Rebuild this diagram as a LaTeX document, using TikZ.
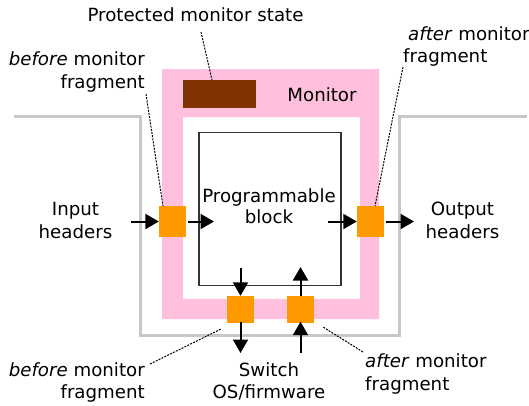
\documentclass[tikz,border=0pt]{standalone}
\usepackage{fontspec}
\setmainfont{DejaVu Sans}
\usetikzlibrary{arrows.meta}
\definecolor{pinkc}{HTML}{FFC0DD}
\definecolor{brownc}{HTML}{803300}
\definecolor{orangec}{HTML}{FF9900}
\definecolor{grayc}{HTML}{C8C8C8}
\tikzset{
  lbl/.style={inner sep=0pt, anchor=base, font=\fontsize{18.2}{22.5}\selectfont},
  frag/.style={fill=orangec, draw=none, inner sep=0pt},
  flow/.style={line width=2pt, -{Triangle[length=13.5pt,width=15pt]}},
  note/.style={line width=1pt, dash pattern=on 2pt off 1.2pt},
}
\begin{document}
\begin{tikzpicture}[x=1pt,y=-1pt]
\useasboundingbox (0,0) rectangle (529,405);
% gray outline
\draw[grayc, line width=3pt] (14,116) -- (140,116) -- (140,335) -- (399,335) -- (399,116) -- (527,116);
% pink monitor frame
\fill[pinkc, even odd rule] (162,69) rectangle (379,319) (183,117) rectangle (360,299);
\node[fill=brownc, minimum width=73pt, minimum height=28pt, inner sep=0pt] (state) at (219.5,94) {};
\node[lbl] (mon) at (322,101) {Monitor};
% programmable block
\node[draw=black!80, line width=1.3pt, minimum width=142pt, minimum height=153pt, inner sep=0pt] (blk) at (270,209) {};
\node[lbl] (pb1) at (269,202) {Programmable};
\node[lbl] (pb2) at (269,223.5) {block};
% fragments
\node[frag, minimum width=27pt, minimum height=31pt] (fl) at (172.5,221.5) {};
\node[frag, minimum width=27pt, minimum height=31pt] (fr) at (370.5,221.5) {};
\node[frag, minimum width=27pt, minimum height=27pt] (fbl) at (240.5,309.5) {};
\node[frag, minimum width=27pt, minimum height=27pt] (fbr) at (300.5,309.5) {};
% labels
\node[lbl] (top) at (195.5,21.5) {Protected monitor state};
\node[lbl, anchor=base east] (bl1) at (145,65) {\textit{before} monitor};
\node[lbl, anchor=base east] (bl1b) at (145,88) {fragment};
\node[lbl, anchor=base west] (ar1) at (408,40) {\textit{after} monitor};
\node[lbl, anchor=base west] (ar1b) at (403,62) {fragment};
\node[lbl] (in1) at (75.5,215) {Input};
\node[lbl] (in2) at (75.5,238) {headers};
\node[lbl] (out1) at (462.5,215) {Output};
\node[lbl] (out2) at (462.5,238) {headers};
\node[lbl] (sw1) at (269,376) {Switch};
\node[lbl] (sw2) at (269,398) {OS/firmware};
\node[lbl, anchor=base east] (bl2) at (145,376) {\textit{before} monitor};
\node[lbl, anchor=base east] (bl2b) at (145,398) {fragment};
\node[lbl, anchor=base west] (ar2) at (365,367) {\textit{after} monitor};
\node[lbl, anchor=base west] (ar2b) at (365,390) {fragment};
% connector endpoints
\coordinate (inS) at (131,221.5);
\coordinate (blkIn) at (214,221.5);
\coordinate (blkOut) at (328,221.5);
\coordinate (outE) at (414,221.5);
\coordinate (blkDn) at (240.5,268);
\coordinate (blkUp) at (300.5,267);
\coordinate (swL) at (240.5,353);
\coordinate (swR) at (300.5,353);
% flows
\draw[flow] (inS) -- (fl.west);
\draw[flow] ([xshift=1.5pt]fl.east) -- (blkIn);
\draw[flow] (blkOut) -- (fr.west);
\draw[flow] ([xshift=1.5pt]fr.east) -- (outE);
\draw[flow] (blkDn) -- (fbl.north);
\draw[flow] ([yshift=1.5pt]fbl.south) -- (swL);
\draw[flow] (fbr.north) -- (blkUp);
\draw[flow] (swR) -- ([yshift=1.5pt]fbr.south);
% notes
\coordinate (n1a) at (201,32);
\coordinate (n2a) at (146,94);
\coordinate (n3a) at (403,67);
\coordinate (n4a) at (150,364);
\coordinate (n5a) at (363,352);
\draw[note] (n1a) -- (212,80);
\draw[note] (n2a) -- (163,206);
\draw[note] (n3a) -- (375,206);
\draw[note] (n4a) -- (221,329);
\draw[note] (n5a) -- (323,327);
\end{tikzpicture}
\end{document}
